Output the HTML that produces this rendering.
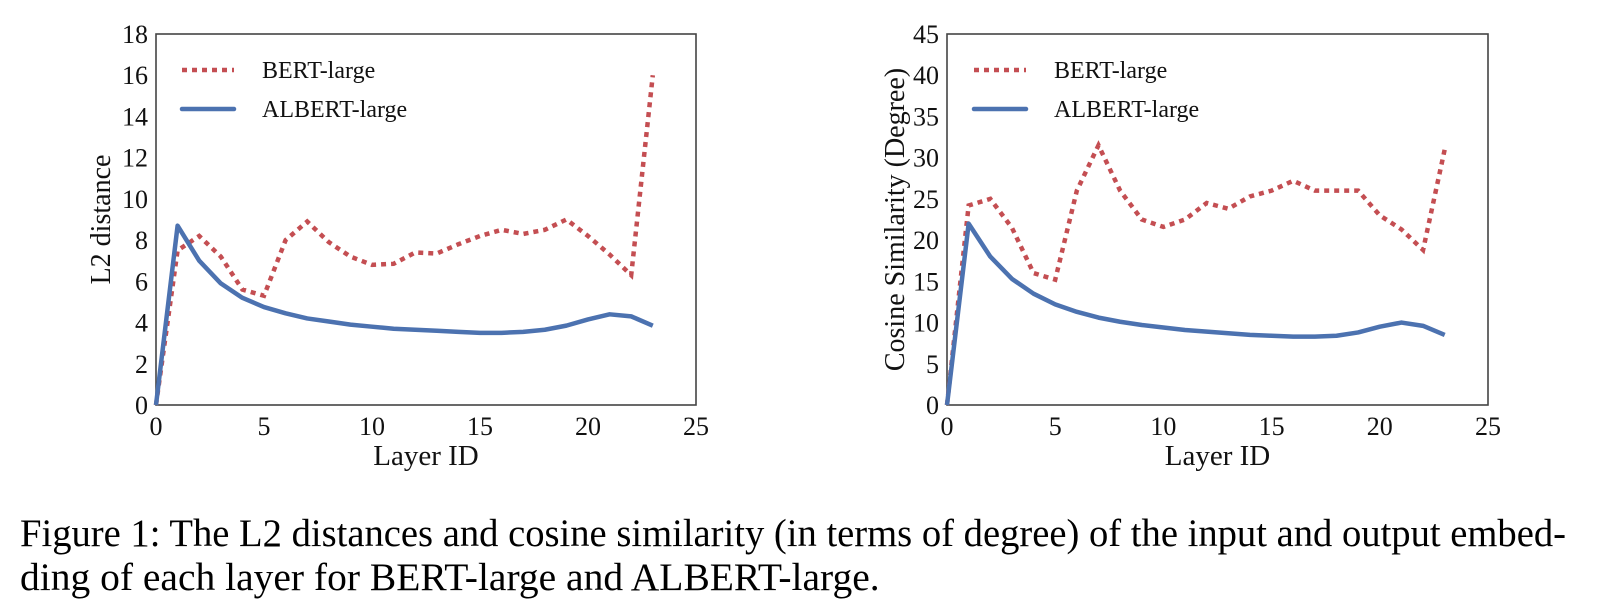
<!DOCTYPE html>
<html><head><meta charset="utf-8"><style>
body{margin:0;background:#fff}
svg{display:block;font-family:"Liberation Serif",serif}
</style></head><body>
<svg id="fig" width="1602" height="604" viewBox="0 0 1602 604" xmlns="http://www.w3.org/2000/svg">
<g id="left"></g>
<g id="right"></g>
<text x="20" y="546" font-size="39" textLength="1546" lengthAdjust="spacingAndGlyphs">Figure 1: The L2 distances and cosine similarity (in terms of degree) of the input and output embed-</text>
<text x="20" y="590" font-size="39.5">ding of each layer for BERT-large and ALBERT-large.</text>
</svg>
<script>
const layers = [0,1,2,3,4,5,6,7,8,9,10,11,12,13,14,15,16,17,18,19,20,21,22,23];
const l2Bert = [0,7.5,8.2,7.2,5.6,5.3,8,8.9,7.9,7.2,6.8,6.85,7.4,7.35,7.8,8.2,8.5,8.3,8.5,9.0,8.2,7.3,6.3,16.0];
const l2Albert = [0,8.7,7.0,5.9,5.2,4.75,4.45,4.2,4.05,3.9,3.8,3.7,3.65,3.6,3.55,3.5,3.5,3.55,3.65,3.85,4.15,4.4,4.3,3.85];
const cosBert = [0,24.2,25,21.5,16,15.2,26,31.5,26,22.5,21.6,22.5,24.5,23.8,25.3,26,27.2,26,26,26,23,21.3,18.8,31];
const cosAlbert = [0,22,18,15.3,13.5,12.2,11.3,10.6,10.1,9.7,9.4,9.1,8.9,8.7,8.5,8.4,8.3,8.3,8.4,8.8,9.5,10,9.6,8.5];
const xTicks = [0,5,10,15,20,25];
const l2Ticks = [0,2,4,6,8,10,12,14,16,18];
const cosTicks = [0,5,10,15,20,25,30,35,40,45];
const NS="http://www.w3.org/2000/svg";
function mk(p,t,a){const e=document.createElementNS(NS,t);for(const k in a)e.setAttribute(k,a[k]);p.appendChild(e);return e;}
function chart(g,L,R,T,B,ymax,yTicks,bert,albert,ytitle,ytx,legX){
  const sx=v=>L+(R-L)*v/25, sy=v=>B-(B-T)*v/ymax;
  let r=mk(g,'rect',{x:L,y:T,width:R-L,height:B-T,fill:'none',stroke:'#444','stroke-width':1.6});
  
  xTicks.forEach(v=>{let t=mk(g,'text',{x:sx(v),y:B+30,'font-size':26,'text-anchor':'middle',fill:'#111'});t.textContent=v;
    });
  yTicks.forEach(v=>{let t=mk(g,'text',{x:L-8,y:sy(v)+9,'font-size':26,'text-anchor':'end',fill:'#111'});t.textContent=v;
    });
  let xt=mk(g,'text',{x:(L+R)/2,y:B+60,'font-size':29,'text-anchor':'middle',fill:'#111'});xt.textContent='Layer ID';
  
  let yt=mk(g,'text',{x:ytx,y:(T+B)/2,'font-size':28,'text-anchor':'middle',fill:'#111',transform:`rotate(-90 ${ytx} ${(T+B)/2})`});yt.textContent=ytitle;
  
  const pts=a=>a.map((v,i)=>sx(layers[i])+','+sy(v)).join(' ');
  let pb=mk(g,'polyline',{points:pts(bert),fill:'none',stroke:'#c44e52','stroke-width':4.5,'stroke-dasharray':'5 5'});
  
  let pa=mk(g,'polyline',{points:pts(albert),fill:'none',stroke:'#4c72b0','stroke-width':4.5,'stroke-linejoin':'round'});
  
  let l1=mk(g,'line',{x1:legX,y1:70,x2:legX+52,y2:70,stroke:'#c44e52','stroke-width':4.5,'stroke-dasharray':'5 5'});
  
  let t1=mk(g,'text',{x:legX+80,y:78,'font-size':24,fill:'#111'});t1.textContent='BERT-large';
  
  let l2=mk(g,'line',{x1:legX,y1:109,x2:legX+52,y2:109,stroke:'#4c72b0','stroke-width':4.5,'stroke-linecap':'round'});
  
  let t2=mk(g,'text',{x:legX+80,y:117,'font-size':24,fill:'#111'});t2.textContent='ALBERT-large';
  
}
chart(document.getElementById('left'),156,696,34,405,18,l2Ticks,l2Bert,l2Albert,'L2 distance',110,182);
chart(document.getElementById('right'),947,1488,34,405,45,cosTicks,cosBert,cosAlbert,'Cosine Similarity (Degree)',904,974);
</script>
</body></html>
